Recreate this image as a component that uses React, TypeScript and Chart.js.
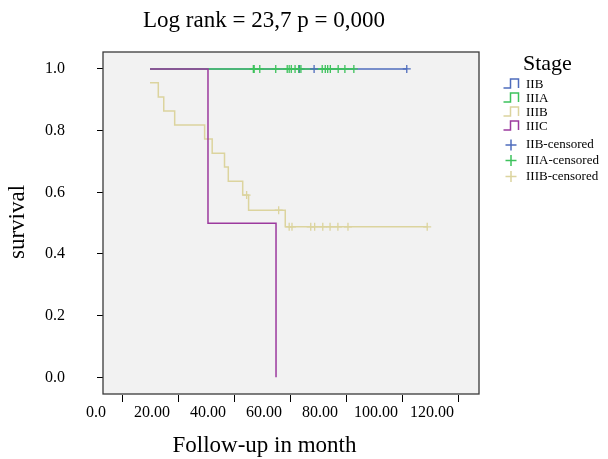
import React, { useEffect, useRef } from "react";
import { Chart, registerables } from "chart.js";

Chart.register(...registerables);

// ---- Data ----
const X_LABELS = [0, 20, 40, 60, 80, 100, 120];
const X_TICK_MARKS = [9.4, 29.4, 49.3, 69.3, 89.3, 109.3, 129.3];
const Y_TICKS = [0, 0.2, 0.4, 0.6, 0.8, 1.0];

const IIB_TIMES = [19.3, 111];
const IIB_SURV = [1, 1];
const IIB_CENSOR_TIMES = [72.7, 77.9, 111];
const IIB_CENSOR_SURV = [1, 1, 1];

const IIIA_TIMES = [19.3, 92.1];
const IIIA_SURV = [1, 1];
const IIIA_CENSOR_TIMES = [56.2, 56.5, 58.5, 64.2, 68.3, 69.0, 69.75, 71.1, 72.4, 73.2, 80.8, 81.9, 82.75, 83.7, 86.5, 88.9, 92.1];
const IIIA_CENSOR_SURV = [1, 1, 1, 1, 1, 1, 1, 1, 1, 1, 1, 1, 1, 1, 1, 1, 1];

const IIIB_TIMES = [19.3, 22.25, 24.2, 28.1, 38.8, 41.5, 45.9, 47.25, 52.4, 54.5, 67.6, 118.3];
const IIIB_SURV = [0.955, 0.909, 0.864, 0.818, 0.773, 0.727, 0.682, 0.636, 0.591, 0.542, 0.488, 0.488];
const IIIB_CENSOR_TIMES = [53.8, 65.25, 69.0, 70.0, 76.7, 78.1, 81.0, 83.6, 86.4, 90.0, 118.3];
const IIIB_CENSOR_SURV = [0.591, 0.542, 0.488, 0.488, 0.488, 0.488, 0.488, 0.488, 0.488, 0.488, 0.488];

const IIIC_TIMES = [19.3, 40.0, 64.3];
const IIIC_SURV = [1, 0.5, 0];

const LEGEND_STEP = ["IIB", "IIIA", "IIIB", "IIIC"];
const LEGEND_CENSOR = ["IIB-censored", "IIIA-censored", "IIIB-censored"];

const TITLE = "Log rank = 23,7 p = 0,000";
const X_TITLE = "Follow-up in month";
const Y_TITLE = "survival";
const LEGEND_TITLE = "Stage";

// ---- Styles ----
const BLUE = "#4f6dbd";
const GREEN = "#3dc25c";
const BEIGE = "#dcd49e";
const PURPLE = "#9c3a9e";
const SERIF = "'Liberation Serif', 'Times New Roman', serif";

const pts = (xs: number[], ys: number[]) => xs.map((x, i) => ({ x, y: ys[i] }));

const decor = {
  id: "decor",
  beforeDraw(chart: any) {
    const { ctx, chartArea: a } = chart;
    ctx.save();
    ctx.fillStyle = "#ffffff";
    ctx.fillRect(0, 0, chart.width, chart.height);
    ctx.fillStyle = "#f2f2f2";
    ctx.fillRect(a.left, a.top, a.right - a.left, a.bottom - a.top);
    ctx.restore();
  },
  afterDraw(chart: any) {
    const { ctx, chartArea: a } = chart;
    const xs = chart.scales.x;
    ctx.save();
    // frame
    ctx.strokeStyle = "#3a3a3a";
    ctx.lineWidth = 1.3;
    ctx.strokeRect(a.left, a.top, a.right - a.left, a.bottom - a.top);
    // x tick marks
    ctx.strokeStyle = "#000";
    ctx.lineWidth = 1;
    X_TICK_MARKS.forEach((v) => {
      const px = Math.round(xs.getPixelForValue(v)) + 0.5;
      ctx.beginPath();
      ctx.moveTo(px, a.bottom + 1);
      ctx.lineTo(px, a.bottom + 8);
      ctx.stroke();
    });
    // titles
    ctx.fillStyle = "#000";
    ctx.textAlign = "center";
    ctx.textBaseline = "alphabetic";
    ctx.font = `23px ${SERIF}`;
    ctx.fillText(TITLE, 264, 27);
    ctx.fillText(X_TITLE, 264.5, 452);
    ctx.save();
    ctx.translate(24, 222);
    ctx.rotate(-Math.PI / 2);
    ctx.fillText(Y_TITLE, 0, 0);
    ctx.restore();
    // legend
    ctx.textAlign = "left";
    ctx.font = `22px ${SERIF}`;
    ctx.fillText(LEGEND_TITLE, 523, 70);
    ctx.font = `13px ${SERIF}`;
    ctx.textBaseline = "middle";
    const stepColors = [BLUE, GREEN, BEIGE, PURPLE];
    const stepRows = [85, 99, 113, 127];
    LEGEND_STEP.forEach((lab, i) => {
      const cy = stepRows[i];
      ctx.strokeStyle = stepColors[i];
      ctx.lineWidth = 1.5;
      ctx.beginPath();
      ctx.moveTo(503.5, cy + 3);
      ctx.lineTo(510.5, cy + 3);
      ctx.lineTo(510.5, cy - 6);
      ctx.lineTo(518.5, cy - 6);
      ctx.lineTo(518.5, cy + 3);
      ctx.stroke();
      ctx.fillStyle = "#000";
      ctx.fillText(lab, 526, cy);
    });
    const cenColors = [BLUE, GREEN, BEIGE];
    const cenRows = [145, 160.5, 176.5];
    LEGEND_CENSOR.forEach((lab, i) => {
      const cy = cenRows[i];
      ctx.strokeStyle = cenColors[i];
      ctx.lineWidth = 1.5;
      ctx.beginPath();
      ctx.moveTo(505.5, cy);
      ctx.lineTo(516.5, cy);
      ctx.moveTo(511, cy - 5.5);
      ctx.lineTo(511, cy + 5.5);
      ctx.stroke();
      ctx.fillStyle = "#000";
      ctx.fillText(lab, 526, cy);
    });
    ctx.restore();
  },
};

export default function App() {
  const ref = useRef<HTMLCanvasElement | null>(null);

  useEffect(() => {
    if (!ref.current) return;
    const lineDs = (label: string, data: any, color: string, order: number) => ({
      label,
      data,
      showLine: true,
      stepped: true,
      borderColor: color,
      backgroundColor: color,
      borderWidth: 1.5,
      pointRadius: 0,
      fill: false,
      order,
    });
    const cenDs = (label: string, data: any, color: string, order: number) => ({
      label,
      data,
      showLine: false,
      pointStyle: "cross",
      pointRadius: 4,
      pointBorderWidth: 1.3,
      borderColor: color,
      backgroundColor: color,
      order,
    });
    const chart = new Chart(ref.current, {
      type: "scatter",
      data: {
        datasets: [
          lineDs("IIB", pts(IIB_TIMES, IIB_SURV), BLUE, 4),
          lineDs("IIIA", pts(IIIA_TIMES, IIIA_SURV), GREEN, 3),
          lineDs("IIIB", pts(IIIB_TIMES, IIIB_SURV), BEIGE, 2),
          lineDs("IIIC", pts(IIIC_TIMES, IIIC_SURV), PURPLE, 1),
          cenDs("IIB-censored", pts(IIB_CENSOR_TIMES, IIB_CENSOR_SURV), BLUE, -1),
          cenDs("IIIA-censored", pts(IIIA_CENSOR_TIMES, IIIA_CENSOR_SURV), GREEN, -2),
          cenDs("IIIB-censored", pts(IIIB_CENSOR_TIMES, IIIB_CENSOR_SURV), BEIGE, -1),
        ],
      },
      options: {
        responsive: false,
        animation: false,
        events: [],
        layout: { padding: { left: 0, right: 129, top: 52, bottom: 0 } },
        plugins: {
          legend: { display: false },
          title: { display: false },
          tooltip: { enabled: false },
        },
        scales: {
          x: {
            type: "linear",
            min: 2.5,
            max: 136.8,
            afterFit: (s: any) => {
              s.height = 65;
            },
            afterBuildTicks: (s: any) => {
              s.ticks = X_LABELS.map((v) => ({ value: v }));
            },
            ticks: {
              autoSkip: false,
              maxRotation: 0,
              padding: 9,
              color: "#000",
              font: { family: SERIF, size: 16 },
              callback: (v: any) => (Number(v) === 0 ? "0.0" : Number(v).toFixed(2)),
            },
            grid: { display: true, drawOnChartArea: false, drawTicks: false, color: "rgba(0,0,0,0)" },
            border: { display: false },
          },
          y: {
            type: "linear",
            min: -0.054,
            max: 1.055,
            afterFit: (s: any) => {
              s.width = 103;
            },
            afterBuildTicks: (s: any) => {
              s.ticks = Y_TICKS.map((v) => ({ value: v }));
            },
            ticks: {
              padding: 32,
              color: "#000",
              font: { family: SERIF, size: 16 },
              callback: (v: any) => Number(v).toFixed(1),
            },
            grid: {
              display: true,
              drawOnChartArea: false,
              drawTicks: true,
              tickLength: 6,
              tickColor: "#000",
              tickWidth: 1,
              color: "rgba(0,0,0,0)",
            },
            border: { display: false },
          },
        },
      },
      plugins: [decor],
    } as any);
    return () => chart.destroy();
  }, []);

  return (
    <div style={{ position: "absolute", left: 0, top: 0, width: 608, height: 459, background: "#fff" }}>
      <canvas ref={ref} width={608} height={459} style={{ display: "block", width: 608, height: 459 }} />
    </div>
  );
}
